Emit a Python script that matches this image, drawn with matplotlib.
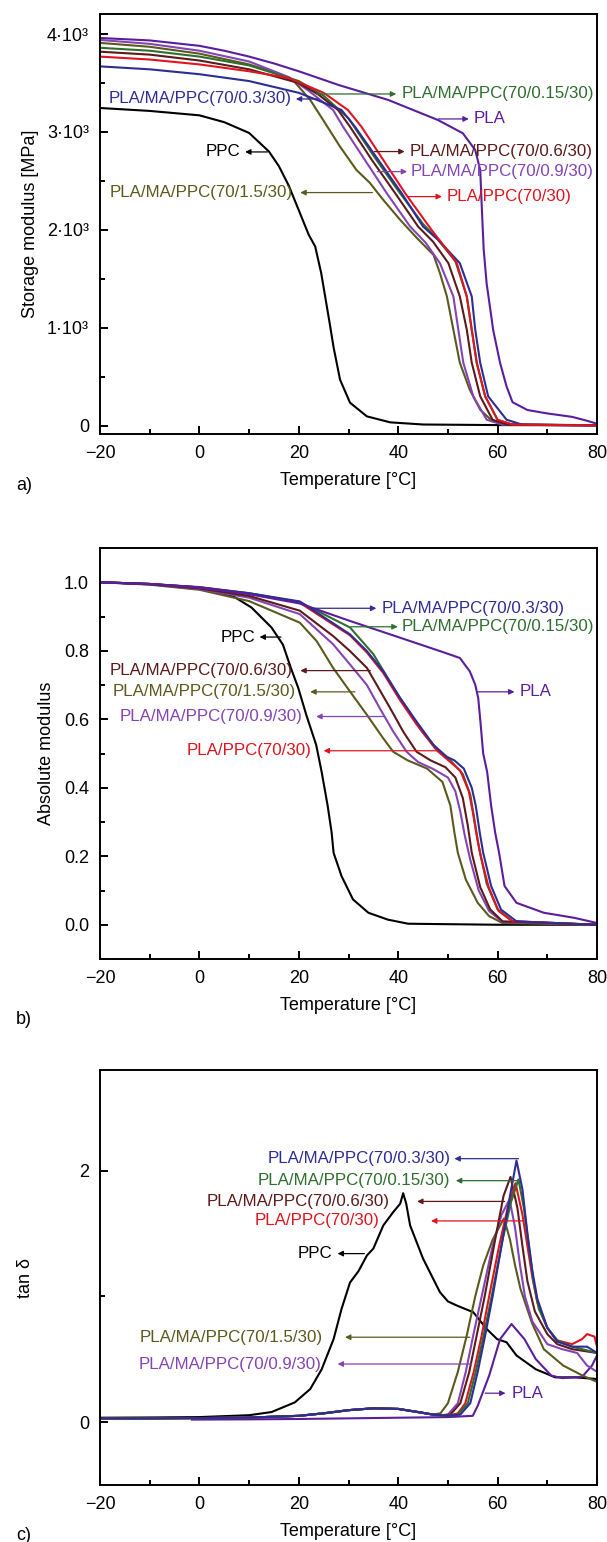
import matplotlib
matplotlib.use("Agg")
import matplotlib.pyplot as plt
from matplotlib.ticker import MultipleLocator, FixedLocator

plt.rcParams['font.family'] = ['Liberation Sans', 'DejaVu Sans']

# ---- series colours -------------------------------------------------------
C_PPC = '#000000'
C_PLA = '#5a1e9c'
C_PLAPPC = '#e0141e'
C_015 = '#2f6e2f'
C_03 = '#2d2d96'
C_06 = '#5c1a1a'
C_09 = '#8444b4'
C_15 = '#5a5a1e'

# ---- a) storage modulus [MPa] --------------------------------------------
a_ppc_T = [-20, -10, 0, 5, 10, 14, 16, 18, 20, 22, 23.3, 24.5, 25.3, 26.2, 27, 28.3, 30.3, 33.7, 38.4, 45, 60, 80]
a_ppc_E = [3245, 3215, 3170, 3100, 2990, 2800, 2650, 2450, 2200, 1950, 1830, 1560, 1320, 1050, 800, 470, 235, 95, 34, 12, 6, 4]

a_pla_T = [-20, -10, 0, 5, 10, 15, 20, 28, 38, 48, 53, 55.5, 56.5, 56.8, 57.2, 57.8, 58.5, 59.1, 60.5, 61.8, 63, 66, 70, 75, 78, 80]
a_pla_E = [3960, 3935, 3880, 3830, 3770, 3700, 3620, 3480, 3327, 3122, 2987, 2816, 2612, 2250, 1800, 1450, 1200, 980, 640, 401, 240, 160, 125, 90, 50, 20]

a_plappc_T = [-20, -10, 0, 10, 18, 25, 29.9, 32.6, 37, 41.4, 46.7, 49, 51.8, 53.8, 54.8, 55.8, 57.5, 60, 63, 70, 80]
a_plappc_E = [3770, 3740, 3690, 3620, 3551, 3400, 3224, 3054, 2714, 2374, 2000, 1850, 1660, 1320, 980, 643, 300, 60, 12, 6, 4]

a_015_T = [-20, -10, 0, 10, 20, 25, 30, 35, 40, 45, 48, 51.5, 53.8, 54.8, 55.8, 57.5, 60, 63, 80]
a_015_E = [3860, 3830, 3770, 3680, 3520, 3370, 3140, 2760, 2400, 2060, 1900, 1680, 1320, 980, 643, 300, 60, 10, 4]

a_03_T = [-20, -10, 0, 10, 20, 24, 28.6, 31.3, 36, 40.7, 45, 48, 52.4, 54.8, 55.5, 56.5, 58.1, 61.8, 65, 80]
a_03_E = [3670, 3640, 3590, 3520, 3400, 3320, 3224, 3054, 2714, 2374, 2034, 1900, 1660, 1320, 980, 643, 300, 61, 10, 4]

a_06_T = [-20, -10, 0, 10, 20, 24, 27.9, 30.3, 34.7, 39.4, 44, 47, 50.1, 52.4, 53.8, 54.8, 56.5, 59, 62, 80]
a_06_E = [3820, 3790, 3730, 3640, 3500, 3380, 3224, 3054, 2714, 2374, 2034, 1880, 1660, 1320, 980, 643, 300, 60, 10, 4]

a_09_T = [-20, -10, 0, 10, 18, 22, 26.9, 28.9, 33.3, 37.7, 42.4, 45.5, 48.4, 51.1, 52.1, 53.1, 55.1, 57.8, 61, 80]
a_09_E = [3940, 3900, 3830, 3720, 3560, 3420, 3224, 3054, 2714, 2374, 2034, 1870, 1660, 1320, 980, 643, 300, 61, 10, 4]

a_15_T = [-20, -10, 0, 10, 15, 19, 22.3, 24.9, 28.3, 31.6, 34.3, 37, 40.4, 43.7, 47.1, 48.4, 49.8, 51.1, 52.4, 54.4, 56.5, 59, 62.4, 80]
a_15_E = [3910, 3870, 3800, 3690, 3610, 3520, 3327, 3122, 2850, 2612, 2480, 2306, 2102, 1920, 1745, 1558, 1320, 980, 643, 367, 163, 44, 15, 4]

# ---- b) absolute modulus --------------------------------------------------
b_ppc_T = [-20, -10, -1.2, 6.6, 10.5, 14.5, 16.8, 18.4, 19.9, 21.5, 23.5, 24.6, 25.8, 26.6, 27, 28.6, 30.9, 34, 37.9, 42, 60, 80]
b_ppc_v = [1.0, 0.995, 0.985, 0.961, 0.926, 0.868, 0.818, 0.75, 0.691, 0.613, 0.525, 0.446, 0.348, 0.27, 0.21, 0.142, 0.074, 0.035, 0.015, 0.003, 0.0, 0.0]

b_pla_T = [-20, -10, 0, 10, 20.2, 30.3, 40.4, 48.4, 52.4, 54.4, 55.5, 56.1, 56.5, 57.1, 57.9, 58.7, 59.5, 60.3, 61.4, 63.8, 69.3, 75.5, 80]
b_pla_v = [1.0, 0.995, 0.985, 0.965, 0.938, 0.887, 0.838, 0.799, 0.779, 0.74, 0.701, 0.662, 0.6, 0.5, 0.446, 0.348, 0.27, 0.21, 0.113, 0.064, 0.035, 0.02, 0.005]

b_plappc_T = [-20, -10, 0, 10, 20.2, 30.3, 33.7, 37, 40.4, 43.7, 47.7, 50.5, 52.5, 54.2, 55, 55.8, 56.6, 58.2, 60.2, 63, 80]
b_plappc_v = [1.0, 0.995, 0.985, 0.967, 0.94, 0.845, 0.795, 0.735, 0.655, 0.585, 0.51, 0.475, 0.45, 0.39, 0.33, 0.26, 0.2, 0.11, 0.04, 0.01, 0.0]

b_015_T = [-20, -10, 0, 10, 20.2, 30.3, 35, 40, 45, 48, 50.5, 53, 54.5, 55.3, 56.2, 57.8, 60, 63, 80]
b_015_v = [1.0, 0.995, 0.986, 0.968, 0.942, 0.868, 0.79, 0.67, 0.56, 0.51, 0.48, 0.44, 0.38, 0.31, 0.23, 0.12, 0.045, 0.01, 0.0]

b_03_T = [-20, -10, 0, 10, 20.2, 30.3, 33.7, 37, 40.4, 43.7, 47.1, 49.8, 51.3, 53.2, 54.8, 55.6, 56.4, 57.1, 58.7, 60.7, 63.8, 80]
b_03_v = [1.0, 0.995, 0.985, 0.968, 0.944, 0.848, 0.799, 0.74, 0.662, 0.593, 0.525, 0.49, 0.48, 0.456, 0.40, 0.348, 0.27, 0.21, 0.113, 0.044, 0.01, 0.0]

b_06_T = [-20, -10, 0, 10, 20.2, 26.9, 30.3, 33.7, 35.7, 38.4, 41, 43.7, 46.5, 49.5, 51.5, 53, 54, 54.8, 56.5, 58.5, 61, 80]
b_06_v = [1.0, 0.994, 0.982, 0.96, 0.917, 0.843, 0.799, 0.75, 0.70, 0.632, 0.564, 0.505, 0.48, 0.46, 0.43, 0.37, 0.29, 0.21, 0.11, 0.045, 0.01, 0.0]

b_09_T = [-20, -10, 0, 10, 20.2, 26.9, 30.3, 33.7, 36.3, 39, 41.7, 44, 47, 50, 51.5, 52.5, 53.4, 54.5, 56.2, 58.3, 61, 80]
b_09_v = [1.0, 0.994, 0.98, 0.955, 0.907, 0.819, 0.76, 0.70, 0.632, 0.564, 0.505, 0.475, 0.455, 0.43, 0.39, 0.33, 0.26, 0.19, 0.10, 0.04, 0.008, 0.0]

b_15_T = [-20, -10, 0, 10, 20.2, 23.6, 26.9, 30.3, 33.7, 37, 39, 41.9, 45.8, 48.9, 50.5, 51.3, 52, 53.6, 56, 58.3, 61, 80]
b_15_v = [1.0, 0.993, 0.978, 0.945, 0.882, 0.828, 0.75, 0.681, 0.613, 0.544, 0.505, 0.48, 0.456, 0.417, 0.348, 0.27, 0.21, 0.132, 0.064, 0.025, 0.005, 0.0]

# ---- c) tan delta ---------------------------------------------------------
# sub-Tg readings shared by the blends (small bump near 35-40 °C)
c_blend_low_T = [-20, -10, 0, 10, 20, 25, 30, 35, 40, 44, 47]
c_blend_low_v = [0.03, 0.03, 0.032, 0.036, 0.05, 0.07, 0.095, 0.11, 0.105, 0.08, 0.06]

c_ppc_T = [-20, -10, 0, 10, 14.5, 19.2, 22.3, 24.6, 27, 28.6, 30.3, 32, 33.7, 35, 37, 39, 40.4, 41, 41.6, 42.4, 45, 48.4, 50, 51.8, 55.1, 57.8, 59.9, 61.8, 63.8, 67.7, 71.6, 75.5, 80]
c_ppc_v = [0.035, 0.037, 0.04, 0.055, 0.08, 0.157, 0.263, 0.42, 0.66, 0.9, 1.11, 1.2, 1.325, 1.38, 1.564, 1.67, 1.737, 1.82, 1.74, 1.564, 1.30, 1.033, 0.96, 0.927, 0.874, 0.741, 0.66, 0.635, 0.53, 0.42, 0.356, 0.356, 0.343]

c_pla_T = [-1.5, 10, 20, 30, 40, 50, 55, 56, 58.3, 60.5, 62.8, 65.4, 67.7, 70.8, 73, 77, 79, 80]
c_pla_v = [0.02, 0.022, 0.025, 0.03, 0.035, 0.04, 0.05, 0.13, 0.37, 0.66, 0.78, 0.66, 0.5, 0.37, 0.35, 0.36, 0.45, 0.53]

c_plappc_T = [50, 52, 53.5, 55.2, 56.8, 58.3, 60.3, 62, 63.6, 65, 66, 67, 68, 70, 72, 75, 77, 78, 79.5, 80]
c_plappc_v = [0.05, 0.07, 0.15, 0.4, 0.69, 1.0, 1.4, 1.7, 1.9, 1.65, 1.4, 1.15, 0.95, 0.75, 0.65, 0.62, 0.66, 0.7, 0.68, 0.6]

c_015_T = [50, 52, 54, 55.6, 57.2, 58.8, 61, 62.7, 64.2, 65.3, 66.3, 67.3, 68.3, 70, 72, 75, 80]
c_015_v = [0.05, 0.06, 0.15, 0.4, 0.69, 1.0, 1.45, 1.75, 1.93, 1.7, 1.4, 1.1, 0.9, 0.75, 0.65, 0.6, 0.55]

c_03_T = [50, 52.5, 54.5, 56, 57.5, 59, 61, 62.5, 63.8, 65, 66, 67, 68, 70, 72, 75, 78, 80]
c_03_v = [0.05, 0.06, 0.15, 0.4, 0.69, 1.0, 1.45, 1.8, 2.08, 1.85, 1.5, 1.2, 0.98, 0.75, 0.64, 0.6, 0.6, 0.55]

c_06_T = [49, 50.5, 52.5, 54.3, 55.8, 57.4, 59.5, 61.2, 62.6, 64, 65, 66, 67.5, 70, 72, 75, 80]
c_06_v = [0.055, 0.06, 0.15, 0.4, 0.69, 1.0, 1.45, 1.8, 1.95, 1.7, 1.4, 1.12, 0.88, 0.7, 0.62, 0.58, 0.55]

c_09_T = [48.5, 50, 52, 53.6, 55.1, 56.8, 59, 60.8, 62.4, 63.5, 64.5, 65.5, 67, 70, 73, 76, 78, 80]
c_09_v = [0.055, 0.06, 0.15, 0.4, 0.69, 1.0, 1.4, 1.65, 1.77, 1.55, 1.25, 1.0, 0.8, 0.62, 0.58, 0.55, 0.45, 0.4]

c_15_T = [48.5, 50, 52, 53.8, 55.5, 57.1, 59, 60.5, 61.3, 62.5, 63.5, 64.6, 66.9, 69.3, 73.2, 77.1, 80]
c_15_v = [0.07, 0.15, 0.4, 0.69, 1.0, 1.245, 1.45, 1.564, 1.62, 1.45, 1.25, 1.06, 0.79, 0.58, 0.45, 0.37, 0.32]

# ---- labels ---------------------------------------------------------------
L_PPC = 'PPC'
L_PLA = 'PLA'
L_PLAPPC = 'PLA/PPC(70/30)'
L_015 = 'PLA/MA/PPC(70/0.15/30)'
L_03 = 'PLA/MA/PPC(70/0.3/30)'
L_06 = 'PLA/MA/PPC(70/0.6/30)'
L_09 = 'PLA/MA/PPC(70/0.9/30)'
L_15 = 'PLA/MA/PPC(70/1.5/30)'

x_ticks = [-20, 0, 20, 40, 60, 80]

W, H = 607, 1542
fig = plt.figure(figsize=(W / 100, H / 100), dpi=100)


def px_axes(left, top, right, bottom):
    return fig.add_axes([left / W, 1 - bottom / H, (right - left) / W, (bottom - top) / H])


def style(ax):
    for s in ax.spines.values():
        s.set_linewidth(1.4)
    ax.set_xlim(-20, 80)
    ax.xaxis.set_major_locator(FixedLocator(x_ticks))
    ax.xaxis.set_minor_locator(MultipleLocator(10))
    ax.tick_params(which='both', direction='in', top=False, right=False,
                   labelsize=13, width=1.4, pad=8)
    ax.tick_params(which='major', length=6)
    ax.tick_params(which='minor', length=3.5)
    ax.set_xlabel('Temperature [°C]', fontsize=13, labelpad=7)


def arrow(ax, tail, head, color):
    ax.annotate('', xy=head, xytext=tail,
                arrowprops=dict(arrowstyle='-|>', color=color, lw=0.9,
                                mutation_scale=8, shrinkA=0, shrinkB=0))


def label(ax, xy, text, color, ha):
    ax.text(xy[0], xy[1], text, color=color, fontsize=12.2, ha=ha, va='center')


LW = 1.5

# ---------------- panel a ----------------
ax = px_axes(100, 14, 597, 434)
ax.plot(a_ppc_T, a_ppc_E, color=C_PPC, lw=LW)
ax.plot(a_15_T, a_15_E, color=C_15, lw=LW)
ax.plot(a_09_T, a_09_E, color=C_09, lw=LW)
ax.plot(a_015_T, a_015_E, color=C_015, lw=LW)
ax.plot(a_06_T, a_06_E, color=C_06, lw=LW)
ax.plot(a_03_T, a_03_E, color=C_03, lw=LW)
ax.plot(a_plappc_T, a_plappc_E, color=C_PLAPPC, lw=LW)
ax.plot(a_pla_T, a_pla_E, color=C_PLA, lw=LW)
ax.set_ylim(-85, 4205)
ax.yaxis.set_major_locator(FixedLocator([0, 1000, 2000, 3000, 4000]))
ax.yaxis.set_minor_locator(MultipleLocator(500))
style(ax)
ax.set_yticklabels(['0', '1·10³', '2·10³', '3·10³', '4·10³'])
ax.set_ylabel('Storage modulus [MPa]', fontsize=13, labelpad=6)

arrow(ax, (23.5, 3388), (39.6, 3388), C_015)
label(ax, (40.6, 3388), L_015, C_015, 'left')
arrow(ax, (23.9, 3337), (19.4, 3337), C_03)
label(ax, (18.6, 3337), L_03, C_03, 'right')
arrow(ax, (48.1, 3133), (54.2, 3133), C_PLA)
label(ax, (55.2, 3133), L_PLA, C_PLA, 'left')
arrow(ax, (13.7, 2796), (9.2, 2796), C_PPC)
label(ax, (8.2, 2796), L_PPC, C_PPC, 'right')
arrow(ax, (35.2, 2800), (41.3, 2800), C_06)
label(ax, (42.2, 2800), L_06, C_06, 'left')
arrow(ax, (35.8, 2595), (41.8, 2595), C_09)
label(ax, (42.5, 2595), L_09, C_09, 'left')
arrow(ax, (41.9, 2340), (48.8, 2340), C_PLAPPC)
label(ax, (49.7, 2340), L_PLAPPC, C_PLAPPC, 'left')
arrow(ax, (34.8, 2381), (20.3, 2381), C_15)
label(ax, (18.8, 2381), L_15, C_15, 'right')
fig.text(16 / W, 1 - 485 / H, 'a)', fontsize=13, va='center')

# ---------------- panel b ----------------
ax = px_axes(100, 548, 597, 959)
ax.plot(b_ppc_T, b_ppc_v, color=C_PPC, lw=LW)
ax.plot(b_15_T, b_15_v, color=C_15, lw=LW)
ax.plot(b_09_T, b_09_v, color=C_09, lw=LW)
ax.plot(b_015_T, b_015_v, color=C_015, lw=LW)
ax.plot(b_06_T, b_06_v, color=C_06, lw=LW)
ax.plot(b_plappc_T, b_plappc_v, color=C_PLAPPC, lw=LW)
ax.plot(b_03_T, b_03_v, color=C_03, lw=LW)
ax.plot(b_pla_T, b_pla_v, color=C_PLA, lw=LW)
ax.set_ylim(-0.1, 1.1)
ax.yaxis.set_major_locator(FixedLocator([0, 0.2, 0.4, 0.6, 0.8, 1.0]))
ax.yaxis.set_minor_locator(MultipleLocator(0.1))
style(ax)
ax.set_yticklabels(['0.0', '0.2', '0.4', '0.6', '0.8', '1.0'])
ax.set_ylabel('Absolute modulus', fontsize=13, labelpad=6)

arrow(ax, (22.3, 0.924), (35.6, 0.924), C_03)
label(ax, (36.6, 0.924), L_03, C_03, 'left')
arrow(ax, (30.5, 0.870), (39.9, 0.870), C_015)
label(ax, (40.6, 0.870), L_015, C_015, 'left')
arrow(ax, (16.4, 0.840), (12.1, 0.840), C_PPC)
label(ax, (11.2, 0.840), L_PPC, C_PPC, 'right')
arrow(ax, (34.4, 0.742), (20.3, 0.742), C_06)
label(ax, (18.8, 0.742), L_06, C_06, 'right')
arrow(ax, (31.3, 0.680), (22.3, 0.680), C_15)
label(ax, (19.3, 0.680), L_15, C_15, 'right')
arrow(ax, (37.2, 0.608), (23.5, 0.608), C_09)
label(ax, (20.8, 0.608), L_09, C_09, 'right')
arrow(ax, (47.7, 0.508), (25.0, 0.508), C_PLAPPC)
label(ax, (22.5, 0.508), L_PLAPPC, C_PLAPPC, 'right')
arrow(ax, (56.0, 0.680), (63.4, 0.680), C_PLA)
label(ax, (64.4, 0.680), L_PLA, C_PLA, 'left')
fig.text(16 / W, 1 - 1020 / H, 'b)', fontsize=13, va='center')

# ---------------- panel c ----------------
ax = px_axes(100, 1070, 597, 1485)
ax.plot(c_ppc_T, c_ppc_v, color=C_PPC, lw=LW)
ax.plot(c_pla_T, c_pla_v, color=C_PLA, lw=LW)
blends = [(c_15_T, c_15_v, C_15), (c_09_T, c_09_v, C_09), (c_06_T, c_06_v, C_06),
          (c_plappc_T, c_plappc_v, C_PLAPPC), (c_015_T, c_015_v, C_015), (c_03_T, c_03_v, C_03)]
for T, v, col in blends:
    ax.plot(c_blend_low_T + T, c_blend_low_v + v, color=col, lw=LW)
ax.set_ylim(-0.5, 2.8)
ax.yaxis.set_major_locator(FixedLocator([0, 2]))
ax.yaxis.set_minor_locator(FixedLocator([1]))
style(ax)
ax.set_yticklabels(['0', '2'])
ax.set_ylabel('tan δ', fontsize=13, labelpad=32)

arrow(ax, (64.2, 2.095), (51.3, 2.095), C_03)
label(ax, (50.5, 2.095), L_03, C_03, 'right')
arrow(ax, (64.2, 1.920), (51.6, 1.920), C_015)
label(ax, (50.5, 1.920), L_015, C_015, 'right')
arrow(ax, (61.4, 1.755), (43.8, 1.755), C_06)
label(ax, (38.3, 1.755), L_06, C_06, 'right')
arrow(ax, (65.4, 1.600), (46.6, 1.600), C_PLAPPC)
label(ax, (36.2, 1.600), L_PLAPPC, C_PLAPPC, 'right')
arrow(ax, (33.2, 1.340), (27.8, 1.340), C_PPC)
label(ax, (26.8, 1.340), L_PPC, C_PPC, 'right')
arrow(ax, (54.4, 0.675), (29.3, 0.675), C_15)
label(ax, (24.8, 0.675), L_15, C_15, 'right')
arrow(ax, (54.8, 0.462), (27.8, 0.462), C_09)
label(ax, (24.6, 0.462), L_09, C_09, 'right')
arrow(ax, (57.5, 0.230), (61.6, 0.230), C_PLA)
label(ax, (62.8, 0.230), L_PLA, C_PLA, 'left')
fig.text(16 / W, 1 - 1535 / H, 'c)', fontsize=13, va='center')

fig.savefig('out.png', dpi=100)
